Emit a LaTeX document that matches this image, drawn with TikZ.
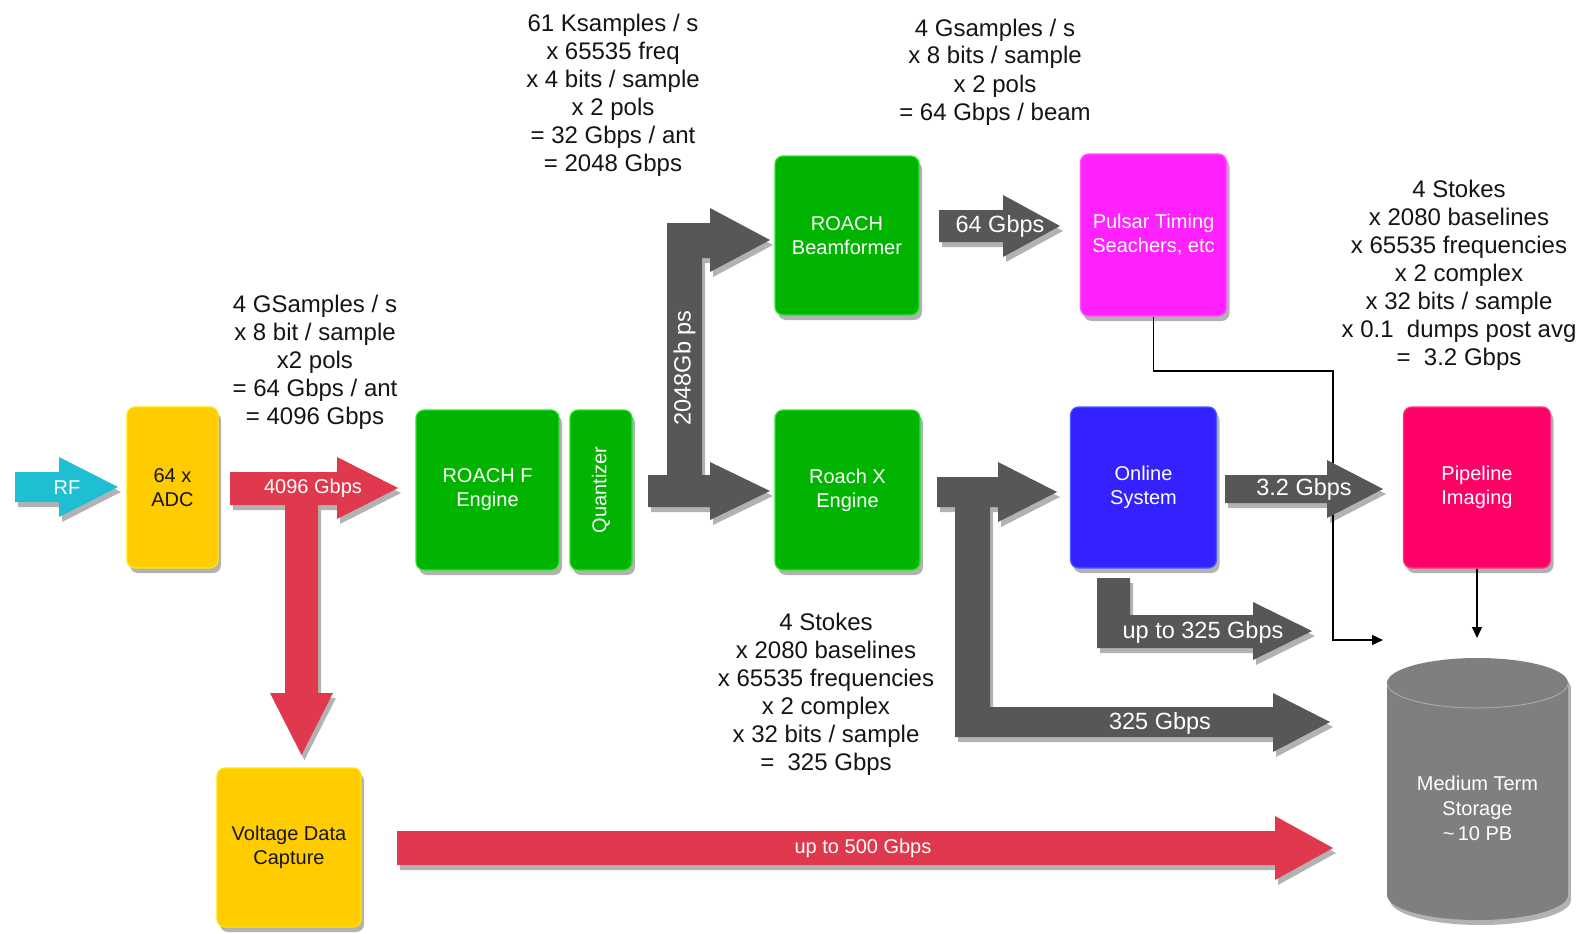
\documentclass[tikz,border=0pt]{standalone}
\usepackage{fontspec}
\setmainfont{Liberation Sans}
\usetikzlibrary{shadows,arrows.meta}
\definecolor{cyellow}{HTML}{FFCC00}
\definecolor{cyellowb}{HTML}{FFE600}
\definecolor{cgreen}{HTML}{00B400}
\definecolor{cgreenb}{HTML}{2EE62E}
\definecolor{cmag}{HTML}{FF22FF}
\definecolor{cmagb}{HTML}{FF55FF}
\definecolor{cblue}{HTML}{3322FF}
\definecolor{cblueb}{HTML}{4A5CFF}
\definecolor{cpink}{HTML}{FF0066}
\definecolor{cpinkb}{HTML}{FF3388}
\definecolor{cgray}{HTML}{575757}
\definecolor{cred}{HTML}{E0394E}
\definecolor{ccyan}{HTML}{1EBFD2}
\definecolor{cstore}{HTML}{7F7F7F}
\definecolor{cstoreb}{HTML}{A8A8A8}
\definecolor{txt}{HTML}{151515}
\begin{document}
\begin{tikzpicture}[x=1pt,y=-1pt,
  shad/.style={drop shadow={shadow xshift=3pt,shadow yshift=-5pt,opacity=0.3,fill=black}},
  box/.style={shad,rounded corners=8pt,inner sep=0pt,align=center,line width=1.2pt,
    font=\fontsize{20}{24}\selectfont,text=white},
  greenbox/.style={box,fill=cgreen,draw=cgreenb},
  yellowbox/.style={box,fill=cyellow,draw=cyellowb,text=txt},
  calc/.style={align=center,font=\fontsize{24}{28}\selectfont,text=txt,inner sep=0pt},
  fatgray/.style={shad,fill=cgray},
  fatred/.style={shad,fill=cred},
  fatcyan/.style={shad,fill=ccyan},
  lab/.style={text=white,inner sep=0pt,font=\fontsize{23.5}{28}\selectfont},
  smalllab/.style={text=white,inner sep=0pt,font=\fontsize{20}{24}\selectfont},
  conn/.style={line width=1.2pt,draw=black,-{Triangle[length=11pt,width=10pt]}}]
\useasboundingbox (0,0) rectangle (1583,934);
\fill[white] (0,0) rectangle (1583,934);

% ---------- calculation texts ----------
\node[calc] (calcF) at (613,96) {\strut 61 Ksamples / s\\x 65535 freq\\x 4 bits / sample\\x 2 pols\\= 32 Gbps / ant\\= 2048 Gbps\strut};
\node[calc] (calcB) at (995,72.4) {\strut 4 Gsamples / s\\x 8 bits / sample\\x 2 pols\\= 64 Gbps / beam\strut};
\node[calc] (calcA) at (315,362.4) {\strut 4 GSamples / s\\x 8 bit / sample\\x2 pols\\= 64 Gbps / ant\\= 4096 Gbps\strut};
\node[calc] (calcP) at (1459,275.4) {\strut 4 Stokes\\x 2080 baselines\\x 65535 frequencies\\x 2 complex\\x 32 bits / sample\\x 0.1~ dumps post avg\\=~ 3.2 Gbps\strut};
\node[calc] (calcX) at (826,694.4) {\strut 4 Stokes\\x 2080 baselines\\x 65535 frequencies\\x 2 complex\\x 32 bits / sample\\=~ 325 Gbps\strut};

% ---------- boxes ----------
\node[yellowbox,minimum width=91,minimum height=161] (adc) at (172.5,487.5) {64 x\\ADC};
\node[greenbox,minimum width=143,minimum height=160] (feng) at (487.5,490) {ROACH F\\Engine};
\node[greenbox,minimum width=62,minimum height=160] (quant) at (601,490) {};
\node[text=white,inner sep=0pt,font=\fontsize{20}{24}\selectfont,rotate=90] (quantlab) at (quant.center) {Quantizer};
\node[greenbox,minimum width=144,minimum height=159] (beam) at (847,235.5) {ROACH\\Beamformer};
\node[greenbox,minimum width=145,minimum height=160] (xeng) at (847.5,490) {Roach X\\Engine};
\node[box,fill=cmag,draw=cmagb,minimum width=146,minimum height=162] (pulsar) at (1153.5,235) {Pulsar Timing\\Seachers, etc};
\node[box,fill=cblue,draw=cblueb,minimum width=146,minimum height=161] (online) at (1143.5,487.5) {Online\\System};
\node[box,fill=cpink,draw=cpinkb,minimum width=147,minimum height=161] (pipe) at (1477,487.5) {Pipeline\\Imaging};
\node[yellowbox,minimum width=144,minimum height=159] (volt) at (289,847.5) {Voltage Data\\Capture};

% ---------- storage cylinder ----------
\fill[shad,cstore] (1387,683) -- (1387,895) arc[start angle=180,end angle=360,x radius=90.5pt,y radius=25pt]
   -- (1568,683) arc[start angle=0,end angle=180,x radius=90.5pt,y radius=25pt] -- cycle;
\draw[cstoreb,line width=1pt] (1387,683) arc[start angle=180,end angle=360,x radius=90.5pt,y radius=25pt];
\node[inner sep=0pt,minimum width=181,minimum height=200,align=center,text=white,
  font=\fontsize{20}{25}\selectfont] (storage) at (1477.5,808) {Medium Term\\Storage\\\textasciitilde\,10 PB};
\coordinate (stin) at (1383,640);
\coordinate (sttop) at (1477,638);

% ---------- thin connectors ----------
\coordinate (c1) at (1333,371);
\draw[conn] (pulsar.south) |- (c1) -- (1333,640) -- (stin);
\draw[conn] (pipe.south) -- (sttop);

% ---------- fat arrows ----------
\fill[fatcyan] (15,472) -- (59,472) -- (59,457) -- (118,487) -- (59,517) -- (59,502) -- (15,502) -- cycle;
\node[smalllab] (rflab) at (67,488) {RF};

\fill[fatred] (230,472) -- (337,472) -- (337,457) -- (398,488) -- (337,519) -- (337,505) -- (318,505)
   -- (318,693) -- (333,693) -- (301.5,755) -- (270,693) -- (285,693) -- (285,505) -- (230,505) -- cycle;
\node[smalllab] (l4096) at (313,488) {4096 Gbps};

\fill[fatgray] (648,475) -- (667,475) -- (667,223) -- (710,223) -- (710,208) -- (770,240) -- (710,272)
   -- (710,258) -- (702,258) -- (702,475) -- (710,475) -- (710,462) -- (770,491) -- (710,520)
   -- (710,507) -- (648,507) -- cycle;
\node[lab,rotate=90] (l2048) at (684.5,368) {2048Gb ps};

\fill[fatgray] (939,210) -- (1003,210) -- (1003,195) -- (1060,226) -- (1003,257) -- (1003,242) -- (939,242) -- cycle;
\node[lab] (l64) at (1000,226) {64 Gbps};

\fill[fatgray] (1225,475) -- (1327,475) -- (1327,460) -- (1383,489) -- (1327,518) -- (1327,503) -- (1225,503) -- cycle;
\node[lab] (l32) at (1304,489) {3.2 Gbps};

\fill[fatgray] (937,477) -- (998,477) -- (998,462) -- (1057,492) -- (998,522) -- (998,507) -- (990,507)
   -- (990,707) -- (1273,707) -- (1273,693) -- (1330,722) -- (1273,752) -- (1273,737) -- (955,737)
   -- (955,507) -- (937,507) -- cycle;
\node[lab] (l325) at (1160,723) {325 Gbps};

\fill[fatgray] (1097,578) -- (1130,578) -- (1130,615) -- (1253,615) -- (1253,602) -- (1312,631)
   -- (1253,660) -- (1253,648) -- (1097,648) -- cycle;
\node[lab] (lupto325) at (1203,632) {up to 325 Gbps};

\fill[fatred] (397,831) -- (1275,831) -- (1275,816) -- (1333,848) -- (1275,880) -- (1275,865) -- (397,865) -- cycle;
\node[smalllab] (l500) at (863,848) {up to 500 Gbps};
\end{tikzpicture}
\end{document}
